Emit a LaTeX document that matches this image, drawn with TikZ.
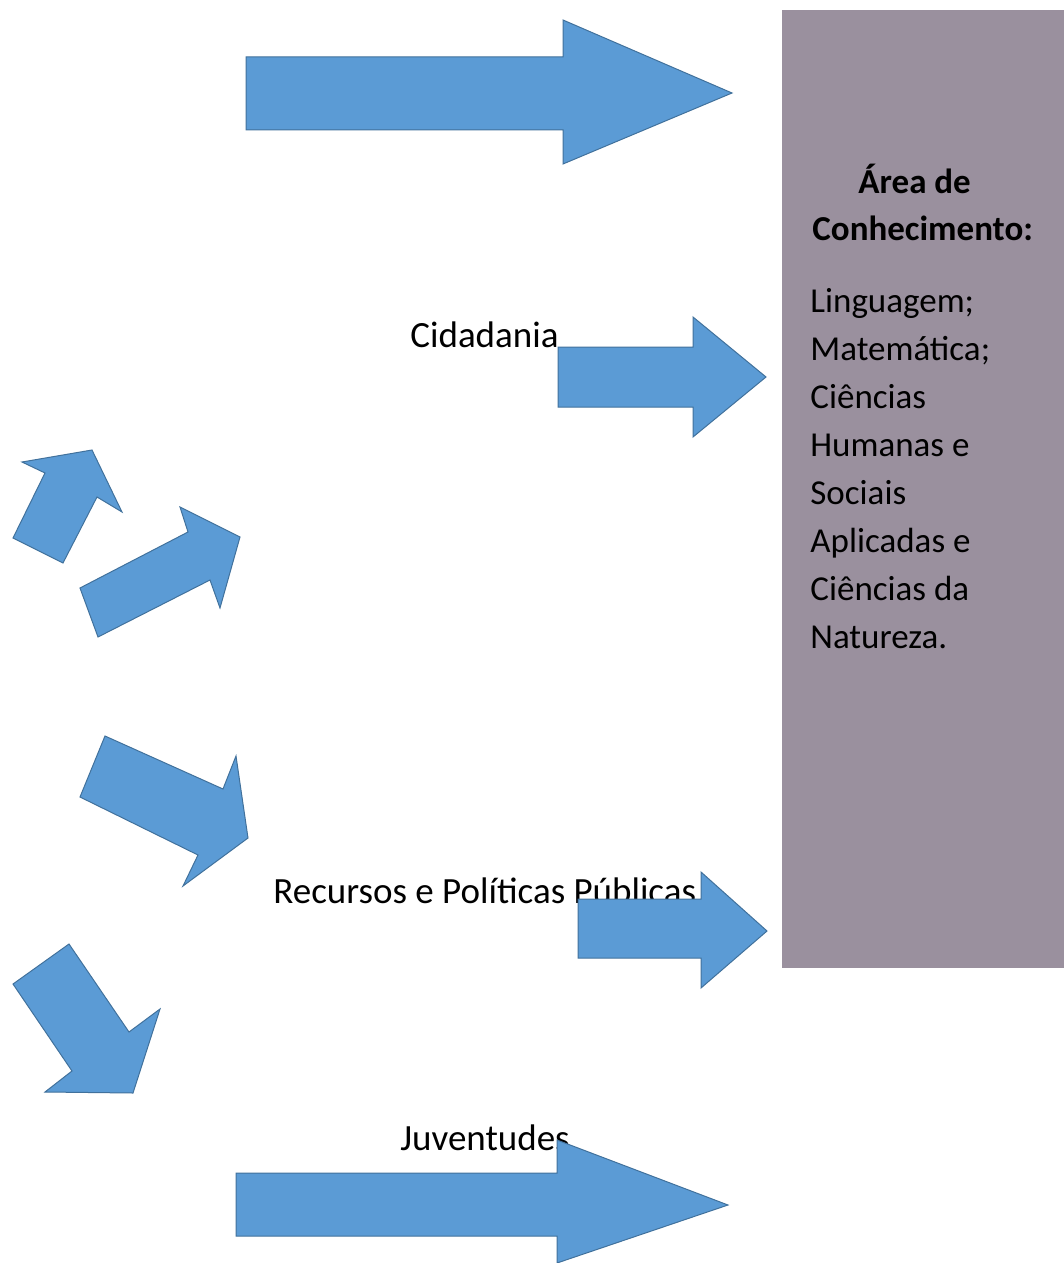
\documentclass[tikz,border=0pt]{standalone}
\usepackage{fontspec}
\setmainfont{Carlito}
\usepackage{xcolor}
\usepackage{tikz}
\usetikzlibrary{positioning}

\definecolor{arrowblue}{HTML}{5B9BD5}
\definecolor{arrowline}{HTML}{41719C}
\definecolor{areagray}{HTML}{9A909E}

\begin{document}
\begin{tikzpicture}[
    x=0.5pt, y=-0.5pt,
    blockarrow/.style={
        fill=arrowblue, draw=arrowline,
        line width=0.5pt, line join=miter
    },
    label/.style={
        anchor=base west, inner sep=0pt,
        font=\fontsize{18.5}{22}\selectfont
    },
    areatext/.style={
        anchor=base west, inner sep=0pt,
        font=\fontsize{17.5}{24}\selectfont
    }
]
\useasboundingbox (0,0) rectangle (1064,1263);

% area box
\fill[areagray] (782,10) rectangle (1064,968);
\node[areatext, font=\fontsize{17.5}{24}\selectfont\bfseries] (area)  at (858,193) {Área de};
\node[areatext, font=\fontsize{17.5}{24}\selectfont\bfseries] (conh)  at (812,240) {Conhecimento:};
\node[areatext] (ling) at (810,312) {Linguagem;};
\node[areatext] (mat)  at (810,360) {Matemática;};
\node[areatext] (ch)   at (810,408) {Ciências};
\node[areatext] (hum)  at (810,456) {Humanas e};
\node[areatext] (soc)  at (810,504) {Sociais};
\node[areatext] (apl)  at (810,552) {Aplicadas e};
\node[areatext] (cn)   at (810,600) {Ciências da};
\node[areatext] (nat)  at (810,648) {Natureza.};

% labels
\node[label] (cid) at (410,347)  {Cidadania};
\node[label] (rec) at (273,903)  {Recursos e Políticas Públicas};
\node[label] (juv) at (400,1150) {Juventudes};

% horizontal arrows
\draw[blockarrow] (246,57) -- (563,57) -- (563,20) -- (732,93)
    -- (563,164) -- (563,130) -- (246,130) -- cycle;
\draw[blockarrow] (558,347) -- (693,347) -- (693,317) -- (766,377)
    -- (693,437) -- (693,407) -- (558,407) -- cycle;
\draw[blockarrow] (578,899) -- (701,899) -- (701,872) -- (767,931)
    -- (701,988) -- (701,958) -- (578,958) -- cycle;
\draw[blockarrow] (236,1173) -- (557,1173) -- (557,1140) -- (728,1205)
    -- (557,1263) -- (557,1236) -- (236,1236) -- cycle;

% tilted arrows on the left
\draw[blockarrow] (13,538) -- (63,563) -- (97,497) -- (122,512)
    -- (92,450) -- (22,462) -- (45,473) -- cycle;
\draw[blockarrow] (80,588) -- (98,637) -- (210,580) -- (220,608)
    -- (240,537) -- (180,507) -- (188,532) -- cycle;
\draw[blockarrow] (105,736) -- (223,789) -- (236,756) -- (248,838)
    -- (183,886) -- (198,855) -- (80,797) -- cycle;
\draw[blockarrow] (69,944) -- (129,1032) -- (160,1009) -- (133,1093)
    -- (45,1092) -- (72,1071) -- (13,984) -- cycle;
\end{tikzpicture}
\end{document}
